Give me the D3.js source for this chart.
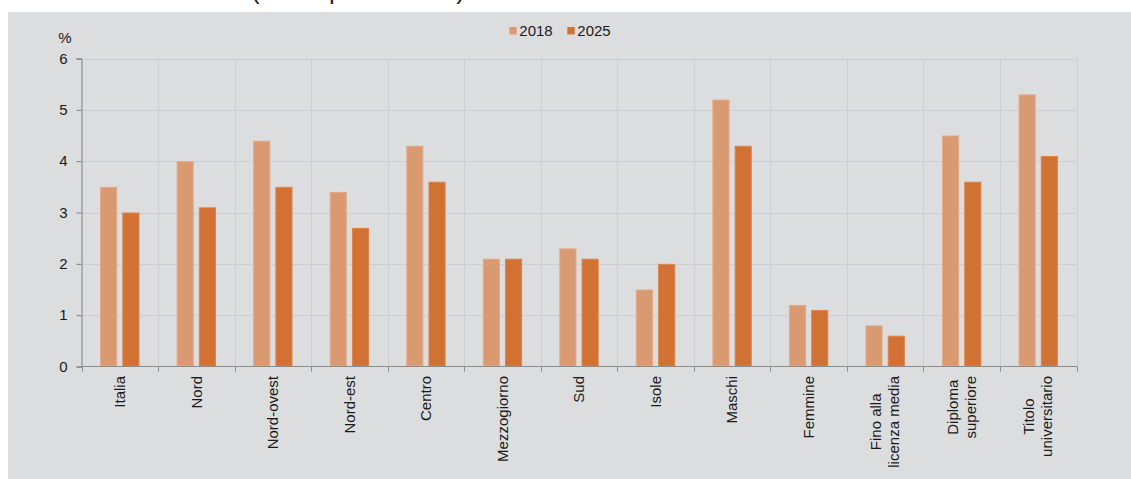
<!DOCTYPE html>
<html>
<head>
<meta charset="utf-8">
<script src="https://cdn.jsdelivr.net/npm/d3@7"></script>
<style>
  html, body { margin: 0; padding: 0; background: #ffffff; }
  svg { display: block; font-family: "Liberation Sans", Arial, sans-serif; }
</style>
</head>
<body>
<svg id="chart" width="1131" height="479"></svg>
<script>
// ---- data ----
const categories = [
  ["Italia"], ["Nord"], ["Nord-ovest"], ["Nord-est"], ["Centro"], ["Mezzogiorno"],
  ["Sud"], ["Isole"], ["Maschi"], ["Femmine"], ["Fino alla", "licenza media"],
  ["Diploma", "superiore"], ["Titolo", "universitario"]
];
const seriesNames = ["2018", "2025"];
const values2018 = [3.5, 4.0, 4.4, 3.4, 4.3, 2.1, 2.3, 1.5, 5.2, 1.2, 0.8, 4.5, 5.3];
const values2025 = [3.0, 3.1, 3.5, 2.7, 3.6, 2.1, 2.1, 2.0, 4.3, 1.1, 0.6, 3.6, 4.1];
const yTicks = [0, 1, 2, 3, 4, 5, 6];
const yUnit = "%";
const titleText = "(valori percentuali)";

(function () {
const svg = d3.select("#chart");
const W = 1131, H = 479;
const colors = { "2018": "#d99a72", "2025": "#d27134" };
const strokes = { "2018": "#e2aa87", "2025": "#db844d" };

// panel background
svg.append("rect").attr("x", 8).attr("y", 12).attr("width", W - 8).attr("height", H - 12)
  .attr("fill", "#dcdddf");

// partially hidden title above panel (cut off by the picture's top edge, as in the reference)
svg.append("text").attr("x", 251).attr("y", -1).attr("font-size", 26).attr("fill", "#222")
  .text(titleText);

const pL = 81.5, pR = 1076.5, pT = 58.5, pB = 366.5;
const keys = categories.map(c => c.join(" "));
const x = d3.scaleBand().domain(keys).range([pL, pR]).padding(0);
const bw = x.bandwidth();
const x1 = d3.scaleBand().domain(seriesNames).range([bw * 0.243, bw * 0.757]).paddingInner(0.23);
const y = d3.scaleLinear().domain([0, 6]).range([pB, pT]);

const grid = svg.append("g");
grid.selectAll("line.h").data(yTicks.filter(t => t > 0)).join("line")
  .attr("x1", pL).attr("x2", pR)
  .attr("y1", d => Math.round(y(d)) + 0.5).attr("y2", d => Math.round(y(d)) + 0.5)
  .attr("stroke", "#cdced1").attr("stroke-width", 1);
const bounds = keys.map(k => x(k)).concat([pR]);
svg.append("g").selectAll("line").data(bounds.slice(1)).join("line")
  .attr("x1", d => Math.round(d) + 0.5).attr("x2", d => Math.round(d) + 0.5)
  .attr("y1", pT).attr("y2", pB)
  .attr("stroke", "#cdced1").attr("stroke-width", 1);

// bars
const data = keys.map((k, i) => ({ key: k, vals: { "2018": values2018[i], "2025": values2025[i] } }));
const groups = svg.append("g").selectAll("g").data(data).join("g")
  .attr("transform", d => `translate(${x(d.key)},0)`);
groups.selectAll("rect").data(d => seriesNames.map(s => ({ s, v: d.vals[s] }))).join("rect")
  .attr("x", d => x1(d.s) + 0.5)
  .attr("width", x1.bandwidth() - 1)
  .attr("y", d => y(d.v) + 0.5)
  .attr("height", d => Math.max(0, y(0) - y(d.v) - 1))
  .attr("fill", d => colors[d.s])
  .attr("stroke", d => strokes[d.s])
  .attr("stroke-width", 1);

// y axis
const yAxis = d3.axisLeft(y).tickValues(yTicks).tickSize(5).tickPadding(9).tickFormat(d3.format("d"));
const gy = svg.append("g").attr("transform", `translate(${pL},0)`).call(yAxis);
gy.select(".domain").attr("stroke", "#7f7f7f");
gy.selectAll(".tick line").attr("stroke", "#7f7f7f");
gy.selectAll(".tick text").attr("font-size", 15).attr("fill", "#1a1a1a")
  .attr("font-family", "Liberation Sans, Arial, sans-serif");

// x axis line and boundary ticks
svg.append("line").attr("x1", pL).attr("x2", pR + 0.5)
  .attr("y1", pB).attr("y2", pB).attr("stroke", "#8c8c8c").attr("stroke-width", 1);
svg.append("g").selectAll("line").data(bounds).join("line")
  .attr("x1", d => Math.round(d) + 0.5).attr("x2", d => Math.round(d) + 0.5)
  .attr("y1", pB).attr("y2", pB + 5)
  .attr("stroke", "#8c8c8c").attr("stroke-width", 1);

// x labels (rotated, block top-aligned, lines centered)
const labelTop = 376;
const lineGap = 18;
categories.forEach((lines, i) => {
  const cx = x(keys[i]) + bw / 2;
  const g = svg.append("g");
  const texts = lines.map(l => g.append("text").attr("font-size", 15).attr("fill", "#1a1a1a").text(l));
  const lens = texts.map(t => t.node().getComputedTextLength());
  const maxLen = d3.max(lens);
  const cy = labelTop + maxLen / 2;
  texts.forEach((t, j) => {
    const off = (j - (lines.length - 1) / 2) * lineGap;
    t.attr("text-anchor", "middle").attr("dy", "0.35em")
      .attr("transform", `translate(${cx + off},${cy}) rotate(-90)`);
  });
});

// unit label
svg.append("text").attr("x", 65).attr("y", 43).attr("text-anchor", "middle")
  .attr("font-size", 15).attr("fill", "#1a1a1a").text(yUnit);

// legend
const legendItems = [{ s: "2018", x: 509.3 }, { s: "2025", x: 567.3 }];
const lg = svg.append("g");
legendItems.forEach(it => {
  lg.append("rect").attr("x", it.x).attr("y", 27).attr("width", 7.4).attr("height", 7.4)
    .attr("fill", colors[it.s]);
  lg.append("text").attr("x", it.x + 10).attr("y", 35.7).attr("font-size", 15)
    .attr("fill", "#1a1a1a").text(it.s);
});
})();
</script>
</body>
</html>
